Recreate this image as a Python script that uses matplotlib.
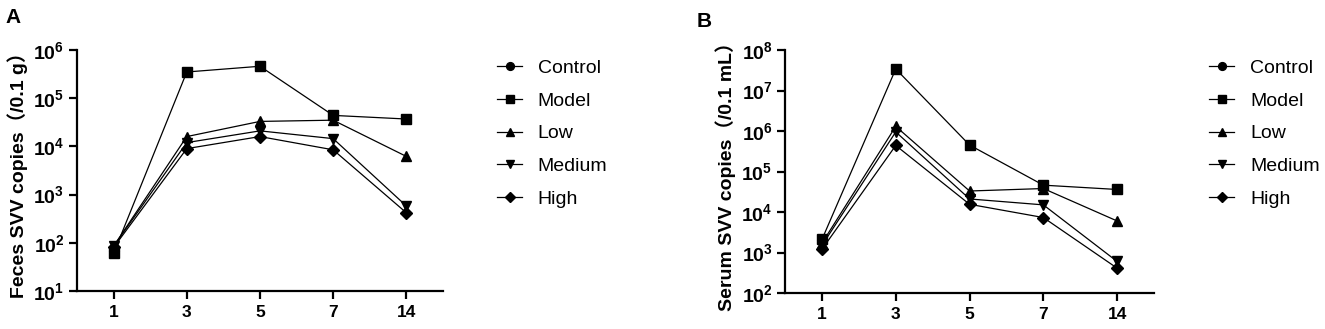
import numpy as np
import matplotlib
matplotlib.use('Agg')
import matplotlib.pyplot as plt
from matplotlib.ticker import FixedLocator, FuncFormatter, NullLocator

plt.rcParams['font.family'] = ['Liberation Sans', 'Noto Sans CJK SC']
plt.rcParams['mathtext.fontset'] = 'custom'
plt.rcParams['mathtext.rm'] = 'Liberation Sans'
plt.rcParams['mathtext.bf'] = 'Liberation Sans:bold'

days = ['1', '3', '5', '7', '14']
groups = ['Control', 'Model', 'Low', 'Medium', 'High']
markers = ['o', 's', '^', 'v', 'D']

# panel A, feces (copies / 0.1 g); control not detected
feces_control = [np.nan, np.nan, np.nan, np.nan, np.nan]
feces_model = [60, 3.5e5, 4.6e5, 4.4e4, 3.7e4]
feces_low = [85, 1.6e4, 3.3e4, 3.5e4, 6.2e3]
feces_medium = [85, 1.2e4, 2.1e4, 1.45e4, 580]
feces_high = [80, 9e3, 1.6e4, 8.5e3, 420]

# panel B, serum (copies / 0.1 mL)
serum_control = [np.nan, np.nan, np.nan, np.nan, np.nan]
serum_model = [2.1e3, 3.4e7, 4.5e5, 4.6e4, 3.6e4]
serum_low = [1.7e3, 1.3e6, 3.3e4, 3.8e4, 6e3]
serum_medium = [1.5e3, 9.5e5, 2.1e4, 1.5e4, 600]
serum_high = [1.2e3, 4.4e5, 1.55e4, 7.3e3, 410]

fig = plt.figure(figsize=(13.25, 3.29), dpi=100)
axA = fig.add_axes([0.0581, 0.1155, 0.2762, 0.7325])
axB = fig.add_axes([0.5925, 0.1094, 0.2785, 0.7386])


def pow_fmt(v, pos):
    return r'$\mathbf{10^{%d}}$' % int(round(np.log10(v)))


def draw(ax, series, ylo, yhi, ylabel):
    x = np.arange(len(days))
    for name, m, vals in zip(groups, markers, series):
        ms = 6.5 if m == 'D' else 7.5
        ax.plot(x, vals, color='black', lw=0.9, marker=m, ms=ms,
                mfc='black', mec='black', label=name)
    ax.set_yscale('log')
    ax.set_ylim(10 ** ylo, 10 ** yhi)
    ax.yaxis.set_major_locator(FixedLocator([10.0 ** k for k in range(ylo, yhi + 1)]))
    ax.yaxis.set_minor_locator(NullLocator())
    ax.yaxis.set_major_formatter(FuncFormatter(pow_fmt))
    ax.set_xlim(-0.5, 4.5)
    ax.set_xticks(x)
    ax.set_xticklabels(days, fontweight='bold')
    ax.spines['top'].set_visible(False)
    ax.spines['right'].set_visible(False)
    for s in ('left', 'bottom'):
        ax.spines[s].set_linewidth(1.6)
    ax.tick_params(direction='out', length=6, width=1.6, labelsize=12.5, pad=4)
    ax.tick_params(axis='y', labelsize=14, pad=3)
    ax.set_ylabel(ylabel, fontsize=14, fontweight='bold', labelpad=4)


draw(axA, [feces_control, feces_model, feces_low, feces_medium, feces_high],
     1, 6, 'Feces SVV copies（/0.1 g）')
draw(axB, [serum_control, serum_model, serum_low, serum_medium, serum_high],
     2, 8, 'Serum SVV copies（/0.1 mL）')

for ax, xa in ((axA, 0.375), (axB, 0.9125)):
    ax.legend(loc='upper left', bbox_to_anchor=(xa, 0.82), bbox_transform=fig.transFigure,
              frameon=False, fontsize=14, borderpad=0, borderaxespad=0, markerscale=0.75,
              handlelength=1.3, handletextpad=0.8, labelspacing=0.78)

fig.text(0.004, 0.975, 'A', fontsize=15, fontweight='bold', va='top')
fig.text(0.526, 0.965, 'B', fontsize=15, fontweight='bold', va='top')

fig.savefig('out.png', dpi=100)
